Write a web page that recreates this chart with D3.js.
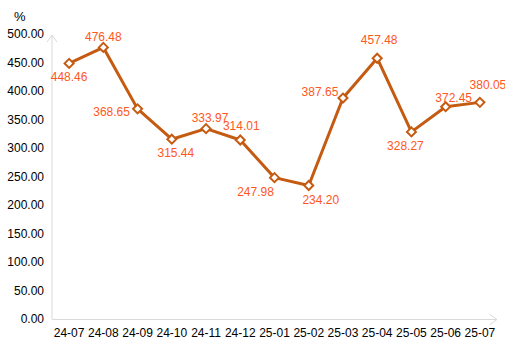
<!DOCTYPE html>
<html>
<head>
<meta charset="utf-8">
<script src="https://cdn.jsdelivr.net/npm/d3@7"></script>
<style>
  body { margin: 0; background: #fff; }
  text { font-family: "Liberation Sans", Arial, sans-serif; }
</style>
</head>
<body>
<div id="chart"></div>
<script>
// monthly values, percent
const months = ["24-07","24-08","24-09","24-10","24-11","24-12","25-01","25-02","25-03","25-04","25-05","25-06","25-07"]
const values = [448.46, 476.48, 368.65, 315.44, 333.97, 314.01, 247.98, 234.20, 387.65, 457.48, 328.27, 372.45, 380.05]
const yTicks = [0, 50, 100, 150, 200, 250, 300, 350, 400, 450, 500]

// where each value label sits relative to its point (dx, dy)
const labelOffsets = [[0,13],[0,-11],[-26,3],[4,14],[4,-11],[1,-14],[-19,14],[12,14],[-23,-6],[2,-18],[-6,14],[8,-9],[8,-18]]

const W = 505, H = 363
const lineColor = "#c55a11", labelColor = "#ff5722", axisColor = "#d9d9d9"

const svg = d3.select("#chart").append("svg")
    .attr("width", W)
    .attr("height", H)

const x = d3.scaleBand().domain(months).range([52, 497])
const y = d3.scaleLinear().domain([0, 500]).range([319, 34])
const cx = d => x(d) + x.bandwidth()/2

// y tick labels
svg.append("g").selectAll("text")
    .data(yTicks).enter()
    .append("text")
    .attr("x", 44)
    .attr("y", d => y(d))
    .attr("dy", "0.35em")
    .attr("text-anchor", "end")
    .style("font-size", "12px")
    .style("fill", "#000")
    .text(d => d.toFixed(2))

svg.append("text")
    .attr("x", 14)
    .attr("y", 21)
    .style("font-size", "13px")
    .text("%")

// axes with arrow heads
svg.append("line")
    .attr("x1", 52).attr("x2", 52)
    .attr("y1", 319).attr("y2", 35)
    .style("stroke", axisColor).style("stroke-width", 1)
svg.append("path")
    .attr("d", "M47,42 L52,35 L57,42")
    .style("fill", "none").style("stroke", axisColor)
svg.append("line")
    .attr("x1", 52).attr("x2", 497)
    .attr("y1", 319.5).attr("y2", 319.5)
    .style("stroke", axisColor).style("stroke-width", 1)
svg.append("path")
    .attr("d", "M490,314.5 L497,319.5 L490,324.5")
    .style("fill", "none").style("stroke", axisColor)

// x labels
svg.append("g").selectAll("text")
    .data(months).enter()
    .append("text")
    .attr("x", d => cx(d))
    .attr("y", 337)
    .attr("text-anchor", "middle")
    .style("font-size", "12px")
    .text(d => d)

// the line
const line = d3.line()
    .x((d, i) => cx(months[i]))
    .y(d => y(d))

svg.append("path")
    .datum(values)
    .attr("d", line)
    .style("fill", "none")
    .style("stroke", lineColor)
    .style("stroke-width", 3)
    .style("stroke-linejoin", "round")

// diamond markers
svg.append("g").selectAll("path")
    .data(values).enter()
    .append("path")
    .attr("d", "M0,-4.5 L4.5,0 L0,4.5 L-4.5,0 Z")
    .attr("transform", (d, i) => "translate(" + cx(months[i]) + "," + y(d) + ")")
    .style("fill", "#fff")
    .style("stroke", lineColor)
    .style("stroke-width", 2)

// value labels
svg.append("g").selectAll("text")
    .data(values).enter()
    .append("text")
    .attr("x", (d, i) => cx(months[i]) + labelOffsets[i][0])
    .attr("y", (d, i) => y(d) + labelOffsets[i][1])
    .attr("dy", "0.35em")
    .attr("text-anchor", "middle")
    .style("font-size", "12px")
    .style("fill", labelColor)
    .text(d => d.toFixed(2))
</script>
</body>
</html>
